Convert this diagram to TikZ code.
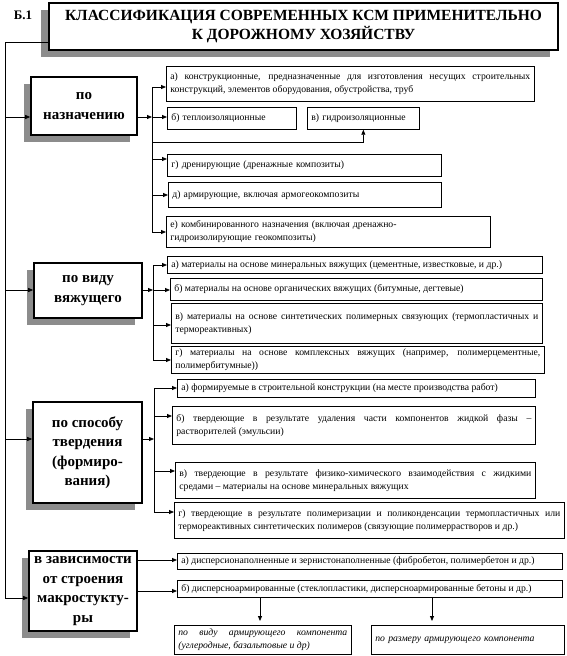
\documentclass[tikz,border=0pt]{standalone}
\usepackage{fontspec}
\setmainfont{Liberation Serif}
\usetikzlibrary{arrows.meta,shadows}
\newcommand\ibox[7][]{%
  \pgfmathsetmacro\iboxtw{#5-#3-8}%
  \node[item,#1,text width=\iboxtw pt,minimum height={#6-#4},anchor=north west] (#2) at (#3,#4) {#7};}
\begin{document}
\begin{tikzpicture}[x=1pt,y=-1pt,
  cat/.style={draw,line width=1.6pt,fill=white,align=center,inner sep=0pt,
    font=\fontsize{15}{19.5}\selectfont\bfseries,
    drop shadow={shadow xshift=-7pt,shadow yshift=-7pt,fill=black!45,opacity=1}},
  item/.style={draw,line width=0.7pt,fill=white,align=justify,inner xsep=4pt,inner ysep=2pt,
    font=\fontsize{9.7}{13}\selectfont,
    drop shadow={shadow xshift=1pt,shadow yshift=-1pt,fill=black!60,opacity=1}},
  arr/.style={-{Triangle[length=5pt,width=4pt]},line width=0.8pt},
  ln/.style={line width=0.8pt}]
\useasboundingbox (0,0) rectangle (566,656);
% title
\node[font=\fontsize{13}{15}\selectfont\bfseries] (b1lab) at (23,15) {Б.1};
\node[draw,line width=1.6pt,fill=white,align=center,minimum width=509pt,minimum height=47pt,
  font=\fontsize{15.5}{19}\selectfont\bfseries,
  drop shadow={shadow xshift=-8pt,shadow yshift=-7pt,fill=black!45,opacity=1}]
  (title) at (303.5,26.5) {КЛАССИФИКАЦИЯ СОВРЕМЕННЫХ КСМ ПРИМЕНИТЕЛЬНО\\К ДОРОЖНОМУ ХОЗЯЙСТВУ};
% categories
\node[cat,minimum width=106pt,minimum height=58pt] (c1) at (84,106) {по\\назначению};
\node[cat,minimum width=108pt,minimum height=55pt] (c2) at (88,290.5) {по виду\\вяжущего};
\node[cat,minimum width=109pt,minimum height=101pt] (c3) at (87.5,452.5) {по способу\\твердения\\(формиро-\\вания)};
\node[cat,minimum width=108pt,minimum height=80pt] (c4) at (83,591) {в зависимости\\от строения\\макростукту-\\ры};
% main line
\coordinate (mtop) at (5,42);
\coordinate (m1) at (5,117);
\coordinate (m2) at (5,290);
\coordinate (m3) at (5,439);
\coordinate (m4) at (5,598);
\draw[ln] (mtop -| title.west) -- (mtop) -- (m4);
\draw[arr] (m1) -- (m1 -| c1.west);
\draw[arr] (m2) -- (m2 -| c2.west);
\draw[arr] (m3) -- (m3 -| c3.west);
\draw[arr] (m4) -- (m4 -| c4.west);
% group 1
\ibox{a1}{166}{66}{534}{101}{а) конструкционные, предназначенные для изготовления несущих строительных\linebreak конструкций, элементов оборудования, обустройства, труб}
\ibox[align=left]{b1}{167}{107}{296}{129}{б) теплоизоляционные}
\ibox[align=left]{v1}{307}{107}{419}{129}{в) гидроизоляционные}
\ibox[align=left]{g1}{167}{154}{441}{176}{г) дренирующие (дренажные композиты)}
\ibox[align=left]{d1}{168}{182}{441}{207}{д) армирующие, включая армогеокомпозиты}
\ibox[align=left]{e1}{166}{216}{490}{247}{е) комбинированного назначения (включая дренажно-\\гидроизолирующие геокомпозиты)}
\coordinate (k1) at (152,117);
\coordinate (k1a) at (152,87);
\coordinate (k1g) at (152,159);
\coordinate (k1d) at (152,195);
\coordinate (k1e) at (152,232);
\coordinate (k1v) at (152,142);
\draw[arr] (k1 -| c1.east) -- (k1);
\draw[ln] (k1a) -- (k1e);
\draw[arr] (k1a) -- (k1a -| a1.west);
\draw[arr] (k1) -- (k1 -| b1.west);
\draw[arr] (k1g) -- (k1g -| g1.west);
\draw[arr] (k1d) -- (k1d -| d1.west);
\draw[arr] (k1e) -- (k1e -| e1.west);
\draw[arr] (k1v) -| (v1.south);
% group 2
\ibox{a2}{167}{256}{542}{273}{а) материалы на основе минеральных вяжущих (цементные, известковые, и др.)}
\ibox{b2}{170}{278}{542}{300}{б) материалы на основе органических вяжущих (битумные, дегтевые)}
\ibox{v2}{171}{303}{542}{343}{в) материалы на основе синтетических полимерных связующих (термопластичных~и\linebreak термореактивных)}
\ibox{g2}{171}{346}{544}{373}{г) материалы на основе комплексных вяжущих (например, полимерцементные,\linebreak полимербитумные))}
\coordinate (k2) at (153,290);
\coordinate (k2a) at (153,265);
\coordinate (k2v) at (153,325);
\coordinate (k2g) at (153,360);
\draw[arr] (k2 -| c2.east) -- (k2);
\draw[ln] (k2a) -- (k2g);
\draw[arr] (k2a) -- (k2a -| a2.west);
\draw[arr] (k2) -- (k2 -| b2.west);
\draw[arr] (k2v) -- (k2v -| v2.west);
\draw[arr] (k2g) -- (k2g -| g2.west);
% group 3
\ibox{a3}{177}{379}{535}{397}{а) формируемые в строительной конструкции (на месте производства работ)}
\ibox{b3}{172}{406}{535}{444}{б) твердеющие в результате удаления части компонентов жидкой фазы~–\linebreak растворителей (эмульсии)}
\ibox{v3}{175}{462}{535}{498}{в) твердеющие в результате физико-химического взаимодействия с жидкими\linebreak средами – материалы на основе минеральных вяжущих}
\ibox{g3}{174}{502}{564}{538}{г) твердеющие в результате полимеризации и поликонденсации термопластичных или\linebreak термореактивных синтетических полимеров (связующие полимеррастворов и др.)}
\coordinate (k3) at (154,439);
\coordinate (k3a) at (154,388);
\coordinate (k3b) at (154,416);
\coordinate (k3v) at (154,471);
\coordinate (k3g) at (154,512);
\draw[arr] (k3 -| c3.east) -- (k3);
\draw[ln] (k3a) -- (k3g);
\draw[arr] (k3a) -- (k3a -| a3.west);
\draw[arr] (k3b) -- (k3b -| b3.west);
\draw[arr] (k3v) -- (k3v -| v3.west);
\draw[arr] (k3g) -- (k3g -| g3.west);
% group 4
\ibox{a4}{177}{553}{562}{569}{а) дисперсионаполненные и зернистонаполненные (фибробетон, полимербетон и др.)}
\ibox{b4}{177}{580}{562}{597}{б) дисперсноармированные (стеклопластики, дисперсноармированные бетоны и др.)}
\ibox[font=\fontsize{9.7}{13}\selectfont\itshape]{s1}{174}{625}{351}{654}{по виду армирующего компонента\linebreak (углеродные, базальтовые и др)}
\ibox[font=\fontsize{9.7}{13}\selectfont\itshape,align=left]{s2}{371}{625}{564}{654}{по размеру армирующего компонента\\[9pt]}
\coordinate (k4a) at (140,560);
\coordinate (k4b) at (140,591);
\draw[arr] (k4a -| c4.east) -- (k4a -| a4.west);
\draw[arr] (k4b -| c4.east) -- (k4b -| b4.west);
\coordinate (d1x) at (260,597);
\coordinate (d2x) at (432,597);
\draw[arr,shorten >=4pt] (d1x) -- (d1x |- s1.north);
\draw[arr,shorten >=4pt] (d2x) -- (d2x |- s2.north);
\end{tikzpicture}
\end{document}
